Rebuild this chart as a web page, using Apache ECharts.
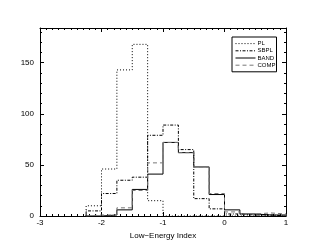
<!DOCTYPE html>
<html><head><meta charset="utf-8">
<script src="https://cdn.jsdelivr.net/npm/echarts@6/dist/echarts.min.js"></script>
<style>html,body{margin:0;padding:0;background:#fff}#c{width:311px;height:249px}</style>
</head><body><div id="c"></div>
<script>
// Histogram bin edges (bin width 0.25)
const binEdges = [-2.25,-2.0,-1.75,-1.5,-1.25,-1.0,-0.75,-0.5,-0.25,0.0,0.25,0.5,0.75,1.0];
// Counts per bin
const pl   = [10,46,143,168,15,0,0,0,0,0,0,0,0];
const sbpl = [5,22,35,38,79,89,65,17,7,2,1,1,0];
const band = [0,1,6,26,41,72,62,48,21,6,2,1,1];
const comp = [1,1,8,25,52,72,62,48,22,4,2,3,2];
const seriesNames = ['PL','SBPL','BAND','COMP'];
const xTicks = [-3,-2,-1,0,1];
const yTicks = [0,50,100,150];
const yMax = 184;

function steps(vals){
  const pts=[[binEdges[0],0]];
  vals.forEach((v,i)=>pts.push([binEdges[i],v]));
  pts.push([binEdges[binEdges.length-1],0]);
  return pts;
}
const FONT = 'Liberation Sans, Arial, Helvetica, sans-serif';
const black = '#000';

function xAx(pos, labels){
  const a = {type:'value', position:pos, min:xTicks[0], max:xTicks[xTicks.length-1], interval:xTicks[1]-xTicks[0],
    axisLine:{show:true,onZero:false,lineStyle:{color:black,width:1}},
    axisTick:{show:true,inside:true,length:4,lineStyle:{color:black,width:1}},
    minorTick:{show:true,splitNumber:10,length:2,lineStyle:{color:black,width:1}},
    splitLine:{show:false}, minorSplitLine:{show:false},
    axisLabel:{show:labels,fontSize:8,color:black,margin:3,fontFamily:FONT}};
  if(labels){ a.name='Low\u2212Energy Index'; a.nameLocation='middle'; a.nameGap=11;
    a.nameTextStyle={fontSize:8,color:black,fontFamily:FONT}; }
  return a;
}
function yAx(pos, interval, len, labels, line){
  return {type:'value', position:pos, min:yTicks[0], max:yMax, interval:interval,
    axisLine:{show:line,onZero:false,lineStyle:{color:black,width:1}},
    axisTick:{show:true,inside:true,length:len,lineStyle:{color:black,width:1}},
    splitLine:{show:false},
    axisLabel:{show:labels,fontSize:8,color:black,margin:6,fontFamily:FONT,showMaxLabel:false}};
}
const styles = {
  PL:{color:black,type:[1,2]},
  SBPL:{color:black,type:[3,1.5,1,1.5]},
  BAND:{color:black,type:'solid'},
  COMP:{color:'#777',type:[4,3]}
};
const dataMap = {PL:pl,SBPL:sbpl,BAND:band,COMP:comp};
const chart = echarts.init(document.getElementById('c'),null,{renderer:'canvas'});
chart.setOption({
  animation:false,
  backgroundColor:'#fff',
  grid:{left:40,right:25,top:28,bottom:33,containLabel:false},
  legend:{orient:'vertical',left:232,top:37,padding:[3,1,3,3],itemWidth:20,itemHeight:5,itemGap:0,
    borderColor:black,borderWidth:1,data:seriesNames,selectedMode:false,
    itemStyle:{opacity:0,borderWidth:0},
    lineStyle:{width:1},
    textStyle:{fontSize:6,color:black,lineHeight:7.2,fontFamily:FONT,padding:[0,0,0,-3]}},
  xAxis:[xAx('bottom',true), xAx('top',false)],
  yAxis:[yAx('left',50,4,true,true), yAx('left',10,2,false,false), yAx('right',50,4,false,true), yAx('right',10,2,false,false)],
  series: seriesNames.map(n=>({name:n,type:'line',step:'end',symbol:'none',showSymbol:false,
    xAxisIndex:0,yAxisIndex:0,data:steps(dataMap[n]),
    lineStyle:{color:styles[n].color,width:1,type:styles[n].type},
    itemStyle:{color:styles[n].color}}))
});
</script></body></html>
